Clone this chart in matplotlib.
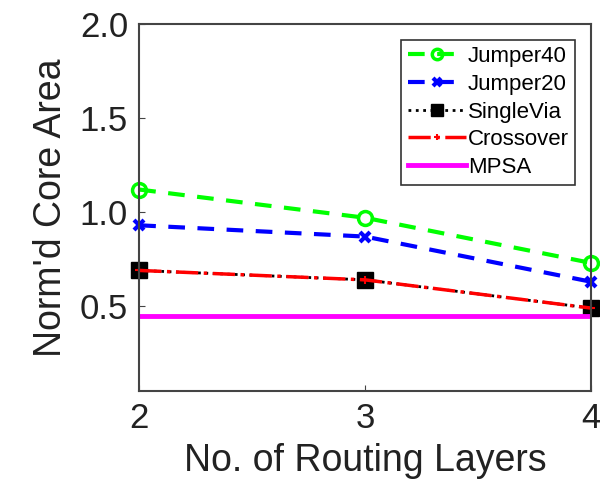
import numpy as np
import matplotlib
matplotlib.use('Agg')
import matplotlib.pyplot as plt

plt.rcParams['font.family'] = ['Liberation Sans', 'DejaVu Sans']

layers = [2, 3, 4]
jumper40 = [1.12, 0.97, 0.73]
jumper20 = [0.93, 0.87, 0.63]
single_via = [0.69, 0.64, 0.49]
crossover = [0.69, 0.64, 0.49]
mpsa = [0.45, 0.45, 0.45]

fig = plt.figure(figsize=(6.0, 4.79), dpi=100)
ax = fig.add_axes([0.232, 0.184, 0.753, 0.766])

ax.plot(layers, jumper40, '--', color=(0, 1, 0), lw=3, marker='o', ms=10,
        mfc='none', mew=2.5, label='Jumper40', dashes=(4, 3), clip_on=False)
ax.plot(layers, jumper20, '--', color='blue', lw=3, marker='x', ms=7,
        mew=3, label='Jumper20', dashes=(4, 3), clip_on=False)
ax.plot(layers, single_via, ':', color='black', lw=2, marker='s', ms=11,
        mfc='black', label='SingleVia', clip_on=False)
ax.plot(layers, crossover, '-.', color='red', lw=2.5, marker='+', ms=6,
        mew=1.5, label='Crossover', clip_on=False)
ax.plot(layers, mpsa, '-', color='magenta', lw=3.5, label='MPSA')

ax.set_xlim(2, 4)
ax.set_ylim(0.05, 2.0)
ax.set_xticks(layers)
ax.set_yticks([0.5, 1.0, 1.5, 2.0])
ax.set_yticklabels(['0.5', '1.0', '1.5', '2.0'])
ax.tick_params(labelsize=25, direction='in', length=4, color='#444444', pad=8,
               labelcolor='#222222')
for s in ax.spines.values():
    s.set_color('#444444')
    s.set_linewidth(1.5)

ax.set_xlabel('No. of Routing Layers', fontsize=27, labelpad=6, color='#222222')
ax.set_ylabel("Norm'd Core Area", fontsize=27, labelpad=8, color='#222222')

leg = ax.legend(loc='upper right', fontsize=16, frameon=True, fancybox=False,
                handlelength=2.6, handletextpad=0.1, borderpad=0.3,
                labelspacing=0.3, borderaxespad=0.7, markerscale=0.75)
leg.get_frame().set_edgecolor('black')
leg.get_frame().set_linewidth(1.2)

fig.savefig('out.png', dpi=100)
